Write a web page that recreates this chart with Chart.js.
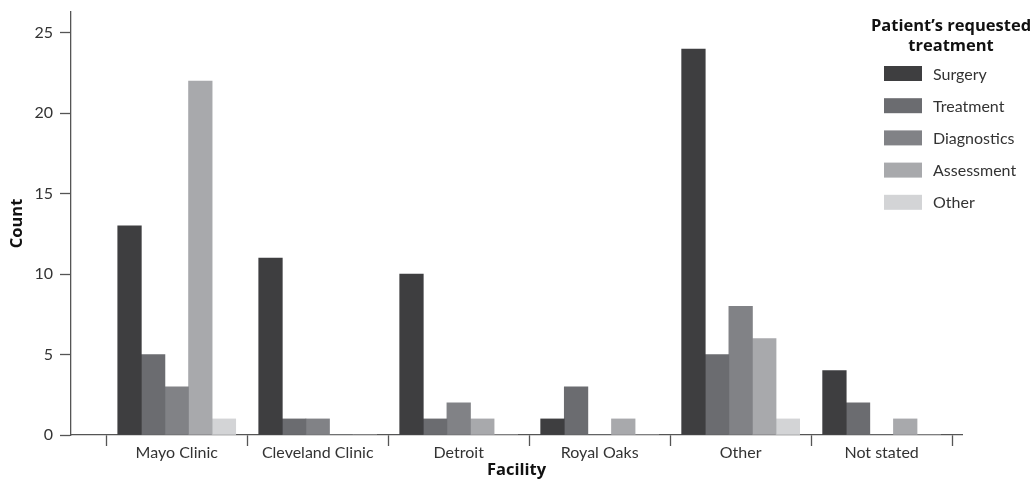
<!DOCTYPE html>
<html>
<head>
<meta charset="utf-8">
<title>Patient's requested treatment by facility</title>
<script src="https://cdn.jsdelivr.net/npm/chart.js@4.4.1/dist/chart.umd.min.js"></script>
<style>
  html, body { margin: 0; padding: 0; background: #fff; }
</style>
</head>
<body>
<canvas id="chart" width="1036" height="481"></canvas>
<script>
// Categories and series
const facilities = ['Mayo Clinic', 'Cleveland Clinic', 'Detroit', 'Royal Oaks', 'Other', 'Not stated'];
const treatments = ['Surgery', 'Treatment', 'Diagnostics', 'Assessment', 'Other'];
const surgery = [13, 11, 10, 1, 24, 4];
const treatment = [5, 1, 1, 3, 5, 2];
const diagnostics = [3, 1, 2, 0, 8, 0];
const assessment = [22, 0, 1, 1, 6, 1];
const otherTreatment = [1, 0, 0, 0, 1, 0];
const yTicks = [0, 5, 10, 15, 20, 25];
const legendTitle = ["Patient\u2019s requested", 'treatment'];

const shades = ['#3e3e40', '#6b6c70', '#818286', '#a8a9ac', '#d3d4d6'];
const AXIS = '#555';
const TEXT = '#333';
const FONT = 'Lato, "Open Sans", sans-serif';
const BOLD = '"Open Sans", Lato, sans-serif';

const series = [surgery, treatment, diagnostics, assessment, otherTreatment];

// x is linear so the axis can run past the groups like the original;
// ticks sit on group boundaries (marks) and centres (labels)
const xTickValues = [];
facilities.forEach((f, i) => { xTickValues.push(i - 0.5, i); });
xTickValues.push(facilities.length - 0.5);

const isCentre = v => Number.isInteger(v);

/**
 * Legend drawn inside the plot area, top right, from the datasets.
 */
const sideLegend = {
  id: 'sideLegend',
  afterDraw(chart) {
    const ctx = chart.ctx;
    ctx.save();
    ctx.textAlign = 'center';
    ctx.textBaseline = 'alphabetic';
    ctx.font = `bold 16.5px ${BOLD}`;
    ctx.fillStyle = '#111';
    legendTitle.forEach((line, i) => ctx.fillText(line, 951, 31 + i * 20));

    ctx.font = `16px ${FONT}`;
    ctx.textAlign = 'left';
    ctx.textBaseline = 'middle';
    chart.data.datasets.forEach((ds, i) => {
      const cy = 73.5 + i * 32.2;
      ctx.fillStyle = ds.backgroundColor;
      ctx.fillRect(884, cy - 7.5, 38, 15);
      ctx.fillStyle = TEXT;
      ctx.fillText(ds.label, 933, cy + 1);
    });
    ctx.restore();
  }
};

new Chart(document.getElementById('chart'), {
  type: 'bar',
  data: {
    datasets: treatments.map((name, k) => ({
      label: name,
      data: series[k].map((v, i) => ({ x: i, y: v })),
      backgroundColor: shades[k],
      borderWidth: 0,
      barThickness: 23.6
    }))
  },
  options: {
    responsive: false,
    animation: false,
    layout: { padding: { top: 12, right: 74, left: 0, bottom: 0 } },
    plugins: {
      legend: { display: false },
      tooltip: { enabled: false }
    },
    scales: {
      x: {
        type: 'linear',
        offset: false,
        min: -0.75,
        max: 5.57,
        afterBuildTicks: s => { s.ticks = xTickValues.map(v => ({ value: v })); },
        afterFit: s => { s.height = 46; },
        grid: {
          offset: false,
          drawOnChartArea: false,
          tickLength: 11,
          tickWidth: 1.3,
          tickColor: c => (c.tick && isCentre(c.tick.value)) ? 'rgba(0,0,0,0)' : AXIS
        },
        border: { color: AXIS, width: 1.3 },
        ticks: {
          autoSkip: false,
          maxRotation: 0,
          padding: -3,
          color: TEXT,
          font: { family: FONT, size: 16 },
          callback: v => isCentre(v) ? facilities[v] : ''
        },
        title: {
          display: true,
          text: 'Facility',
          color: '#111',
          font: { family: BOLD, size: 16.5, weight: 'bold' },
          padding: { top: 0, bottom: 1 }
        }
      },
      y: {
        min: 0,
        max: 26.3,
        afterBuildTicks: s => { s.ticks = yTicks.map(v => ({ value: v })); },
        afterFit: s => { s.width = 71; s.paddingTop = 0; s.paddingBottom = 0; },
        grid: {
          drawOnChartArea: false,
          tickLength: 11,
          tickWidth: 1.3,
          tickColor: AXIS
        },
        border: { color: AXIS, width: 1.3 },
        ticks: {
          padding: 7,
          color: TEXT,
          font: { family: FONT, size: 16 }
        },
        title: {
          display: true,
          text: 'Count',
          color: '#111',
          font: { family: BOLD, size: 16.5, weight: 'bold' },
          padding: { top: 7, bottom: 0 }
        }
      }
    }
  },
  plugins: [sideLegend]
});
</script>
</body>
</html>
